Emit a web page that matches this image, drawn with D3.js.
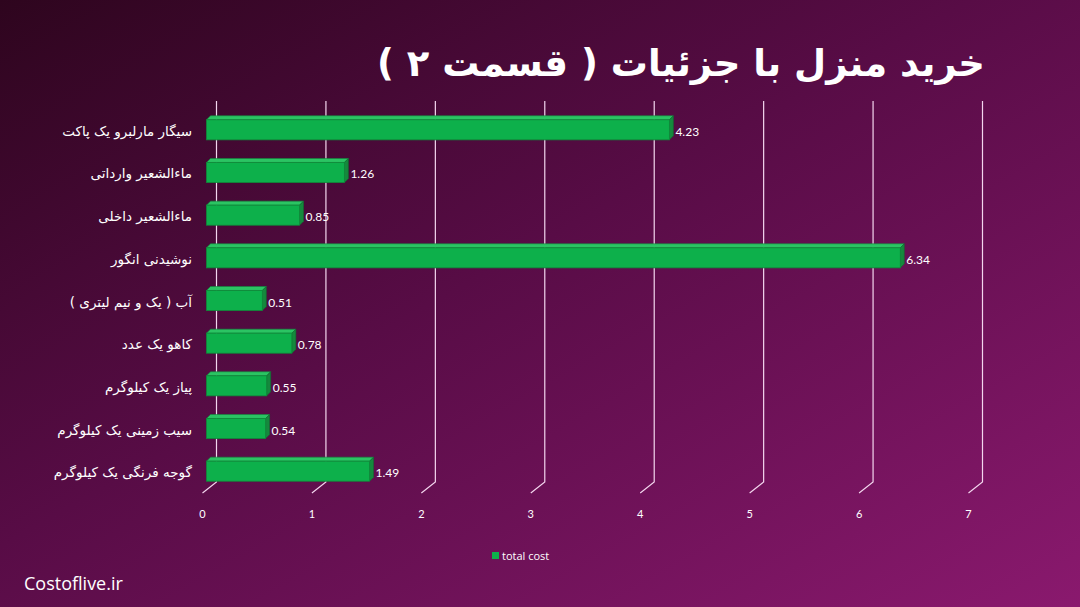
<!DOCTYPE html>
<html><head><meta charset="utf-8">
<script src="https://cdn.jsdelivr.net/npm/d3@7"></script>
<style>html,body{margin:0;padding:0;background:#4a0b3a;}svg{display:block;}</style>
</head><body>
<script>
const categories = [
  "سیگار مارلبرو یک پاکت",
  "ماءالشعیر وارداتی",
  "ماءالشعیر داخلی",
  "نوشیدنی انگور",
  "آب ( یک و نیم لیتری )",
  "کاهو  یک عدد",
  "پیاز یک کیلوگرم",
  "سیب زمینی یک کیلوگرم",
  "گوجه فرنگی یک کیلوگرم"
];
const values = [4.23, 1.26, 0.85, 6.34, 0.51, 0.78, 0.55, 0.54, 1.49];
const valueLabels = ["4.23", "1.26", "0.85", "6.34", "0.51", "0.78", "0.55", "0.54", "1.49"];
const tickValues = [0, 1, 2, 3, 4, 5, 6, 7];
const seriesName = "total cost";
const titleText = "خرید منزل با جزئیات ( قسمت ۲ )";
const footerText = "Costoflive.ir";

const W = 1080, H = 607;
const svg = d3.select("body").append("svg").attr("width", W).attr("height", H);
const defs = svg.append("defs");
const bg = defs.append("linearGradient").attr("id", "bg")
  .attr("x1", "0%").attr("y1", "0%").attr("x2", "100%").attr("y2", "100%");
bg.append("stop").attr("offset", "0%").attr("stop-color", "#2e051e");
bg.append("stop").attr("offset", "45%").attr("stop-color", "#580c46");
bg.append("stop").attr("offset", "100%").attr("stop-color", "#8a196e");
svg.append("rect").attr("width", W).attr("height", H).attr("fill", "url(#bg)");

const x = d3.scaleLinear().domain([0, 7]).range([206.5, 972.5]);
const y = d3.scaleBand().domain(categories).range([107, 494]).paddingInner(0.53).paddingOuter(0.3);
const depthX = 10, depthY = -11;
const gridTop = 101, gridBottom = 482;

const g = svg.append("g");
g.selectAll("path.grid").data(tickValues).join("path")
  .attr("class", "grid")
  .attr("d", d => `M${x(d) + depthX},${gridTop} L${x(d) + depthX},${gridBottom} L${x(d) - 4},${gridBottom - depthY}`)
  .attr("fill", "none").attr("stroke", "#f3d6ee").attr("stroke-width", 1.2);

g.selectAll("text.tick").data(tickValues).join("text")
  .attr("x", d => x(d) - 4).attr("y", 518)
  .attr("text-anchor", "middle").attr("fill", "#ffffff")
  .attr("font-family", "Lato, 'DejaVu Sans', sans-serif").attr("font-size", 11)
  .text(d => d);

const bd = 4;
const bars = svg.append("g").selectAll("g").data(categories).join("g");
bars.each(function (c, i) {
  const s = d3.select(this);
  const x0 = x(0), x1 = x(values[i]), y0 = y(c), h = y.bandwidth();
  s.append("path")
    .attr("d", `M${x0},${y0} L${x0 + bd},${y0 - bd} L${x1 + bd},${y0 - bd} L${x1},${y0} Z`)
    .attr("fill", "#2bc463").attr("stroke", "#118a3c").attr("stroke-width", 0.6);
  s.append("path")
    .attr("d", `M${x1},${y0} L${x1 + bd},${y0 - bd} L${x1 + bd},${y0 + h - bd} L${x1},${y0 + h} Z`)
    .attr("fill", "#15893d").attr("stroke", "#0f6e31").attr("stroke-width", 0.6);
  s.append("rect")
    .attr("x", x0).attr("y", y0).attr("width", x1 - x0).attr("height", h)
    .attr("fill", "#0db04b").attr("stroke", "#0f8a3a").attr("stroke-width", 0.8);
  s.append("text")
    .attr("x", x1 + bd + 2).attr("y", y0 + h / 2 + 6)
    .attr("fill", "#ffffff").attr("font-family", "Lato, 'DejaVu Sans', sans-serif")
    .attr("font-size", 12).text(valueLabels[i]);
});

svg.append("g").selectAll("text").data(categories).join("text")
  .attr("x", 192).attr("y", d => y(d) + y.bandwidth() / 2 + 6)
  .attr("text-anchor", "start").attr("direction", "rtl")
  .attr("fill", "#ffffff").attr("font-family", "'DejaVu Sans', sans-serif")
  .attr("font-size", 13.5).text(d => d);

svg.append("text").attr("x", 985).attr("y", 76)
  .attr("text-anchor", "start").attr("direction", "rtl")
  .attr("fill", "#ffffff").attr("font-family", "'DejaVu Sans', sans-serif")
  .attr("font-weight", "bold").attr("font-size", 37).text(titleText);

const lg = svg.append("g");
lg.append("rect").attr("x", 492).attr("y", 552).attr("width", 7).attr("height", 7).attr("fill", "#0db04b");
lg.append("text").attr("x", 502).attr("y", 560).attr("fill", "#ffffff")
  .attr("font-family", "'Open Sans', sans-serif").attr("font-size", 11).text(seriesName);

svg.append("text").attr("x", 24).attr("y", 590).attr("fill", "#ffffff")
  .attr("font-family", "'Open Sans', sans-serif").attr("font-size", 18).text(footerText);
</script>
</body></html>
